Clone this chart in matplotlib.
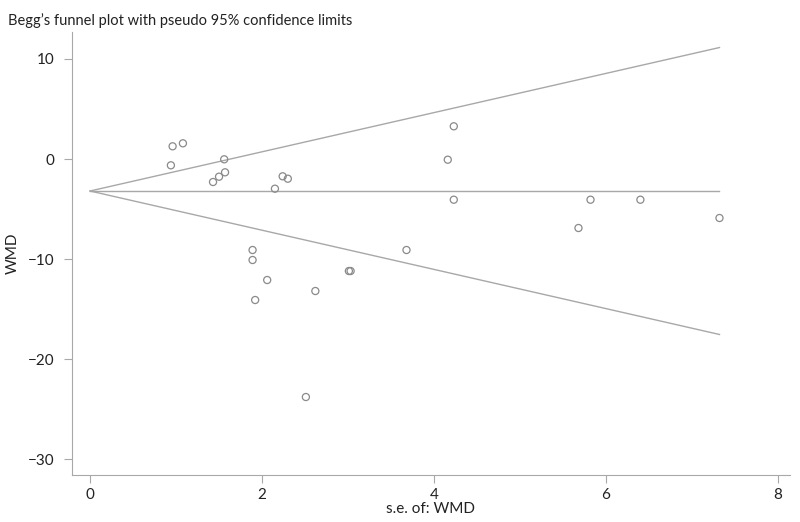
import matplotlib
matplotlib.use('Agg')
import matplotlib.pyplot as plt
import numpy as np

plt.rcParams['font.family'] = ['Lato', 'DejaVu Sans']

# Data: standard error and WMD of each study
se = [0.96, 1.08, 0.94, 1.56, 1.43, 1.50, 1.57, 2.24, 2.30, 2.15,
      1.89, 1.89, 2.06, 1.92, 2.62, 3.01, 3.03, 3.68, 2.51,
      4.23, 4.16, 4.23, 5.82, 6.40, 5.68, 7.32]
wmd = [1.27, 1.57, -0.63, -0.03, -2.30, -1.77, -1.33, -1.73, -1.97, -2.97,
       -9.1, -10.1, -12.1, -14.1, -13.2, -11.2, -11.2, -9.1, -23.8,
       3.27, -0.07, -4.07, -4.07, -4.07, -6.9, -5.9]
pooled = -3.2

se_max = max(se)
se_line = np.array([0, se_max])

fig = plt.figure(figsize=(8, 5.22), dpi=100)
ax = fig.add_axes([0.09, 0.09, 0.8975, 0.8487])

grey = '#a8a8a8'
ax.plot(se_line, [pooled, pooled], color=grey, lw=1)
ax.plot(se_line, pooled + 1.96 * se_line, color=grey, lw=1)
ax.plot(se_line, pooled - 1.96 * se_line, color=grey, lw=1)
ax.scatter(se, wmd, s=26, facecolors='none', edgecolors='#8a8a8a', linewidths=0.9, zorder=3)

ax.set_xlim(-0.21, 8.14)
ax.set_ylim(-31.6, 12.7)
ax.set_xticks([0, 2, 4, 6, 8])
ax.set_yticks([-30, -20, -10, 0, 10])
ax.set_yticklabels(['\u221230', '\u221220', '\u221210', '0', '10'])

for side in ['top', 'right']:
    ax.spines[side].set_visible(False)
for side in ['left', 'bottom']:
    ax.spines[side].set_color(grey)
ax.tick_params(colors=grey, labelcolor='#222222', labelsize=11, length=6, width=0.8)
ax.tick_params(axis='y', pad=6.5)
ax.tick_params(axis='x', pad=3.5)

ax.set_xlabel('s.e. of: WMD', fontsize=11, color='#222222', labelpad=0)
ax.set_ylabel('WMD', fontsize=11, color='#222222', labelpad=6)

fig.text(0.01, 0.975, 'Begg\u2019s funnel plot with pseudo 95% confidence limits',
         fontsize=10.5, color='#222222', ha='left', va='top')

fig.savefig('out.png', dpi=100)
